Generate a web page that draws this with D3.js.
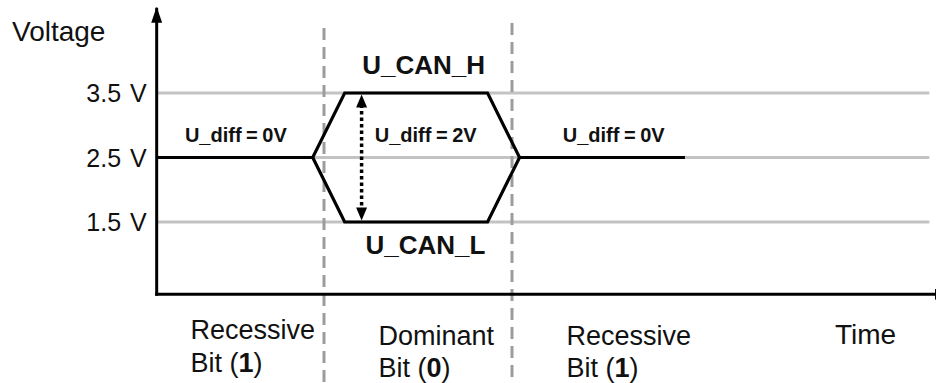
<!DOCTYPE html>
<html>
<head>
<meta charset="utf-8">
<script src="https://cdn.jsdelivr.net/npm/d3@7"></script>
<style>
  body { margin: 0; background: #fff; }
</style>
</head>
<body>
<div id="chart"></div>
<script>
// Voltage levels shown on the y axis
var levels = [1.5, 2.5, 3.5];
var levelLabels = ['1.5 V', '2.5 V', '3.5 V'];

// Time in bit units (bit boundaries at 1 and 2)
var bitBounds = [1, 2];
var bitNames = ['Recessive', 'Dominant', 'Recessive'];
var bitValues = ['1', '0', '1'];

// CAN_H and CAN_L traces: [time, volt]
var canH = [[0.11, 2.5], [0.94, 2.5], [1.11, 3.5], [1.87, 3.5], [2.04, 2.5], [2.92, 2.5]];
var canL = [[0.94, 2.5], [1.11, 1.5], [1.87, 1.5], [2.04, 2.5]];

// Differential voltage annotations: [time, label]
var diffLabels = [[0.26, 'U_diff = 0V'], [1.27, 'U_diff = 2V'], [2.27, 'U_diff = 0V']];

var width = 936, height = 383;
var font = 'Arial, "Liberation Sans", Helvetica, sans-serif';

var x = d3.scaleLinear().domain([1, 2]).range([324, 512]);
var y = d3.scaleLinear().domain([1.5, 3.5]).range([222, 93]);

var tStart = 0.11, tGridEnd = 4.22, tAxisEnd = 4.33;
var vFloor = 0.38, vTop = 4.82;

var svg = d3.select('#chart').append('svg')
  .attr('width', width)
  .attr('height', height)
  .attr('font-family', font);

svg.append('rect').attr('width', width).attr('height', height).attr('fill', '#fff');

// Arrow head pointing along the line direction
svg.append('defs').append('marker')
  .attr('id', 'arrow')
  .attr('viewBox', '0 0 16 11')
  .attr('refX', 15).attr('refY', 5.5)
  .attr('markerWidth', 16).attr('markerHeight', 11)
  .attr('markerUnits', 'userSpaceOnUse')
  .attr('orient', 'auto')
  .append('path').attr('d', 'M0,0 L16,5.5 L0,11 Z').attr('fill', '#000');

// Horizontal reference lines
svg.selectAll('line.grid')
  .data(levels)
  .enter().append('line')
  .attr('class', 'grid')
  .attr('x1', x(tStart)).attr('x2', x(tGridEnd))
  .attr('y1', function (d) { return y(d); })
  .attr('y2', function (d) { return y(d); })
  .attr('stroke', '#c3c3c3')
  .attr('stroke-width', 3);

// Bit boundaries
svg.selectAll('line.bound')
  .data(bitBounds)
  .enter().append('line')
  .attr('class', 'bound')
  .attr('x1', function (d) { return x(d); })
  .attr('x2', function (d) { return x(d); })
  .attr('y1', function (d, i) { return i === 0 ? 28 : 23; })
  .attr('y2', height)
  .attr('stroke', '#9c9c9c')
  .attr('stroke-width', 3)
  .attr('stroke-dasharray', '12,7');

// Signal traces
var line = d3.line()
  .x(function (d) { return x(d[0]); })
  .y(function (d) { return y(d[1]); });

svg.selectAll('path.trace')
  .data([canH, canL])
  .enter().append('path')
  .attr('class', 'trace')
  .attr('d', line)
  .attr('fill', 'none')
  .attr('stroke', '#000')
  .attr('stroke-width', 3.2)
  .attr('stroke-linejoin', 'miter');

// Axes
svg.append('line')
  .attr('x1', x(tStart)).attr('x2', x(tStart))
  .attr('y1', y(vFloor) + 1.5).attr('y2', y(vTop))
  .attr('stroke', '#000').attr('stroke-width', 3)
  .attr('marker-end', 'url(#arrow)');

svg.append('line')
  .attr('x1', x(tStart) - 1.5).attr('x2', x(tAxisEnd))
  .attr('y1', y(vFloor)).attr('y2', y(vFloor))
  .attr('stroke', '#000').attr('stroke-width', 3)
  .attr('marker-end', 'url(#arrow)');

// Differential voltage dotted arrow
svg.append('line')
  .attr('x1', x(1.2)).attr('x2', x(1.2))
  .attr('y1', y(1.5) - 10).attr('y2', y(3.5) + 10)
  .attr('stroke', '#000').attr('stroke-width', 3.5)
  .attr('stroke-dasharray', '3.5,3');

[[1.5, 'M-5.5,-13 L5.5,-13 L0,0 Z'], [3.5, 'M-5.5,13 L5.5,13 L0,0 Z']].forEach(function (a) {
  svg.append('path')
    .attr('transform', 'translate(' + x(1.2) + ',' + (y(a[0]) + (a[0] < 2 ? -1.5 : 1.5)) + ')')
    .attr('d', a[1])
    .attr('fill', '#000');
});

// Y tick labels
svg.selectAll('text.tick')
  .data(levels)
  .enter().append('text')
  .attr('class', 'tick')
  .attr('x', x(tStart) - 10)
  .attr('y', function (d) { return y(d); })
  .attr('dy', '0.36em')
  .attr('text-anchor', 'end')
  .attr('fill', '#111')
  .style('font-size', '25px')
  .style('word-spacing', '2px')
  .text(function (d, i) { return levelLabels[i]; });

// Axis titles
svg.append('text').attr('x', 12).attr('y', 41).attr('fill', '#111')
  .style('font-size', '28px').text('Voltage');
svg.append('text').attr('x', 835).attr('y', 344).attr('fill', '#111')
  .style('font-size', '28px').text('Time');

// Trace names
svg.append('text').attr('x', x(1.53)).attr('y', 74)
  .attr('text-anchor', 'middle').attr('fill', '#111')
  .style('font-size', '26px').style('font-weight', 'bold').text('U_CAN_H');
svg.append('text').attr('x', x(1.54)).attr('y', 254)
  .attr('text-anchor', 'middle').attr('fill', '#111')
  .style('font-size', '26px').style('font-weight', 'bold').text('U_CAN_L');

// U_diff labels
svg.selectAll('text.diff')
  .data(diffLabels)
  .enter().append('text')
  .attr('class', 'diff')
  .attr('x', function (d) { return x(d[0]); })
  .attr('y', 142)
  .attr('fill', '#111')
  .style('font-size', '20px')
  .style('font-weight', 'bold')
  .style('word-spacing', '-1px')
  .text(function (d) { return d[1]; });

// Bit labels
var bits = svg.selectAll('g.bit')
  .data(bitNames)
  .enter().append('g')
  .attr('class', 'bit')
  .attr('transform', function (d, i) { return 'translate(' + x(i + 0.29) + ',0)'; });

bits.append('text')
  .attr('y', function (d, i) { return i === 0 ? 339 : 345; })
  .attr('fill', '#111')
  .style('font-size', '27px')
  .text(function (d) { return d; });

var bitLine = bits.append('text')
  .attr('y', function (d, i) { return i === 0 ? 372 : 377; })
  .attr('fill', '#111')
  .style('font-size', '27px');
bitLine.append('tspan').text('Bit (');
bitLine.append('tspan').style('font-weight', 'bold').text(function (d, i) { return bitValues[i]; });
bitLine.append('tspan').text(')');
</script>
</body>
</html>
